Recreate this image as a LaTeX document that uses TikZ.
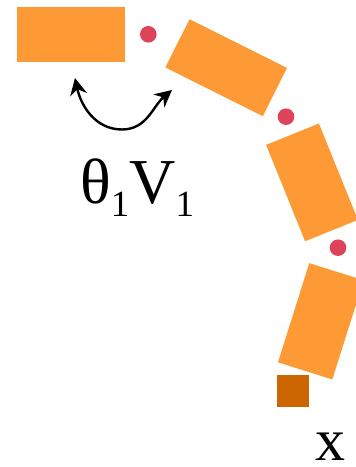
\documentclass[tikz,border=0pt]{standalone}
\usepackage{fontspec}
\setmainfont{Liberation Serif}
\usetikzlibrary{arrows.meta}
\definecolor{linkorange}{RGB}{254,154,54}
\definecolor{jointred}{RGB}{222,68,89}
\definecolor{tipbrown}{RGB}{204,102,0}
\newcommand{\lowsub}[1]{\raisebox{-13pt}{\fontsize{37}{37}\selectfont #1}}
\begin{document}
\begin{tikzpicture}[
  x=1pt, y=1pt,
  link/.style={rectangle, fill=linkorange, inner sep=0pt, minimum width=108pt, minimum height=55pt},
  joint/.style={circle, fill=jointred, inner sep=0pt, minimum size=16.6pt},
  effector/.style={rectangle, fill=tipbrown, inner sep=0pt, minimum size=31.5pt},
  turn/.style={line width=2.4pt, {Stealth[length=17pt,width=17pt]}-{Stealth[length=17pt,width=17pt]}}
]
\useasboundingbox (0,0) rectangle (356,467);
\node[link] (seg1) at (70.5,432.5) {};
\node[link, minimum width=109pt, minimum height=54pt, rotate=-26.6] (seg2) at (226.2,399.3) {};
\node[link, minimum width=104pt, minimum height=57pt, rotate=-68] (seg3) at (312,284.6) {};
\node[link, minimum width=104pt, minimum height=57pt, rotate=-107.5] (seg4) at (320.8,145.7) {};
\node[joint] (joint1) at (148.3,432.7) {};
\node[joint] (joint2) at (286,350.3) {};
\node[joint] (joint3) at (338,219.3) {};
\node[effector] (tip) at (293,75.8) {};
% rotation of the first joint
\coordinate (turnA) at (75,389);
\coordinate (turnC) at (122,337.5);
\coordinate (turnB) at (172,377);
\draw[turn] (turnA) to[out=-78, in=180] (turnC) to[out=0, in=-140] (turnB);
\node[anchor=base west, inner sep=0pt] (angle) at (80,263.7)
  {\fontsize{64}{64}\selectfont θ\lowsub{1}V\lowsub{1}};
\node[anchor=base, inner sep=0pt] (pos) at (330,6)
  {\fontsize{60}{60}\selectfont x};
\end{tikzpicture}
\end{document}
